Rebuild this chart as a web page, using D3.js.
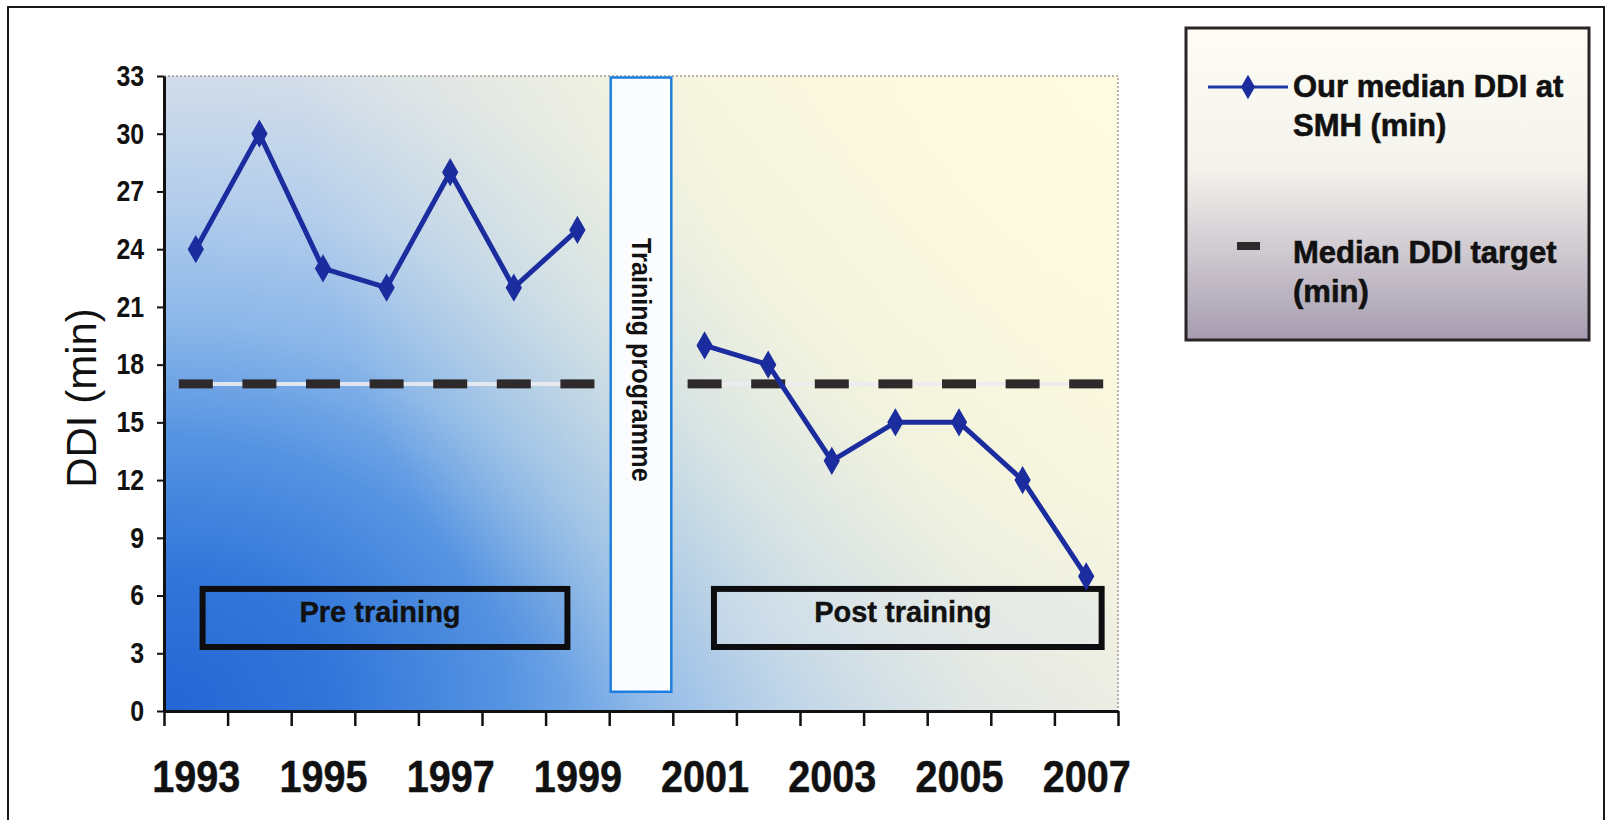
<!DOCTYPE html>
<html>
<head>
<meta charset="utf-8">
<script src="https://cdn.jsdelivr.net/npm/d3@7"></script>
<style>
  html, body { margin: 0; padding: 0; background: #ffffff; }
  svg { display: block; }
  text { font-family: "Liberation Sans", Arial, Helvetica, sans-serif; }
</style>
</head>
<body>
<svg id="chart" width="1612" height="820"></svg>
<script>
// ---- data -------------------------------------------------------------
const years = [1993, 1994, 1995, 1996, 1997, 1998, 1999, 2000, 2001, 2002, 2003, 2004, 2005, 2006, 2007];
// median door-to-doctor interval per year (min); 2000 = training year, no value
const medianDDI = [24, 30, 23, 22, 28, 22, 25, null, 19, 18, 13, 15, 15, 12, 7];
const targetDDI = [17, 17, 17, 17, 17, 17, 17, null, 17, 17, 17, 17, 17, 17, 17];
const yTickValues = [0, 3, 6, 9, 12, 15, 18, 21, 24, 27, 30, 33];
const xTickLabels = [1993, 1995, 1997, 1999, 2001, 2003, 2005, 2007];
const seriesNames = ["Our median DDI at|SMH (min)", "Median DDI target|(min)"];

// ---- layout -----------------------------------------------------------
const plot = { left: 164, right: 1118, top: 76, bottom: 711 };

const svg = d3.select("#chart");
const x = d3.scaleLinear().domain([1992.5, 2007.5]).range([plot.left, plot.right]);
const y = d3.scaleLinear().domain([0, 33]).range([plot.bottom, plot.top]);

const defs = svg.append("defs");

// blue wash spreading from the lower-left corner of the plot (wider than tall)
const bg = defs.append("radialGradient").attr("id", "plotBg")
  .attr("gradientUnits", "userSpaceOnUse")
  .attr("cx", plot.left).attr("cy", plot.bottom).attr("r", 1150)
  .attr("fx", plot.left).attr("fy", plot.bottom)
  .attr("gradientTransform",
        `translate(${plot.left},${plot.bottom}) scale(1.15,0.92) translate(${-plot.left},${-plot.bottom})`);
[[0, "#2465d4"], [0.13, "#3176da"], [0.26, "#5694e2"], [0.36, "#88b5e9"],
 [0.48, "#b3cdec"], [0.62, "#d6dfe9"], [0.75, "#e7e8e8"], [0.88, "#f2f1e6"], [1, "#f8f7e6"]]
  .forEach(([o, c]) => bg.append("stop").attr("offset", o).attr("stop-color", c));

// pale cream glow from the upper-right corner
const warm = defs.append("radialGradient").attr("id", "plotWarm")
  .attr("gradientUnits", "userSpaceOnUse")
  .attr("cx", plot.right).attr("cy", plot.top).attr("r", 820)
  .attr("fx", plot.right).attr("fy", plot.top);
warm.append("stop").attr("offset", 0).attr("stop-color", "#fffde0").attr("stop-opacity", 0.95);
warm.append("stop").attr("offset", 0.5).attr("stop-color", "#fffcda").attr("stop-opacity", 0.7);
warm.append("stop").attr("offset", 1).attr("stop-color", "#fffcda").attr("stop-opacity", 0);

// legend panel: cream at top fading to grey-mauve
const lg = defs.append("linearGradient").attr("id", "legendBg")
  .attr("x1", 0).attr("y1", 0).attr("x2", 0).attr("y2", 1);
[[0, "#fdfcf5"], [0.45, "#f4f2ec"], [0.72, "#cfc9d0"], [1, "#a59caf"]]
  .forEach(([o, c]) => lg.append("stop").attr("offset", o).attr("stop-color", c));

// outer frame
svg.append("rect").attr("x", 8).attr("y", 7).attr("width", 1596).attr("height", 830)
  .attr("fill", "#ffffff").attr("stroke", "#1a1a1a").attr("stroke-width", 2);

// plot background
["url(#plotBg)", "url(#plotWarm)"].forEach(f =>
  svg.append("rect").attr("x", plot.left).attr("y", plot.top)
    .attr("width", plot.right - plot.left).attr("height", plot.bottom - plot.top)
    .attr("fill", f));
// thin dotted border on top and right
svg.append("path")
  .attr("d", `M${plot.left},${plot.top}H${plot.right}V${plot.bottom}`)
  .attr("fill", "none").attr("stroke", "#a09890").attr("stroke-width", 1.5)
  .attr("stroke-dasharray", "2,2");

// ---- target series (dash markers joined by a pale line) ----------------
const pts = years.map((yr, i) => ({ yr, v: medianDDI[i], t: targetDDI[i] }));

const targetLine = d3.line().defined(d => d.t != null).x(d => x(d.yr)).y(d => y(d.t));
svg.append("path").datum(pts).attr("d", targetLine)
  .attr("fill", "none").attr("stroke", "#ecebf0").attr("stroke-width", 4).attr("opacity", 0.9);
svg.append("g").selectAll("rect").data(pts.filter(d => d.t != null)).join("rect")
  .attr("x", d => x(d.yr) - 17).attr("y", d => y(d.t) - 4.5)
  .attr("width", 34).attr("height", 9).attr("fill", "#2e2a2c");

// ---- period annotations -------------------------------------------------
const trainingBand = { x0: 1999.5, x1: 2000.5, y0: 1, y1: 33 };
const tb = svg.append("g");
tb.append("rect")
  .attr("x", x(trainingBand.x0) + 1.5).attr("y", y(trainingBand.y1) + 1.5)
  .attr("width", x(trainingBand.x1) - x(trainingBand.x0) - 3)
  .attr("height", y(trainingBand.y0) - y(trainingBand.y1) - 1.5)
  .attr("fill", "#fbfcfe").attr("stroke", "#1f7fe0").attr("stroke-width", 2.5);
tb.append("text")
  .attr("transform", `translate(${x(2000) - 9},${(y(trainingBand.y0) + y(trainingBand.y1)) / 2 - 24}) rotate(90) scale(0.9,1)`)
  .attr("text-anchor", "middle").attr("font-size", 28).attr("font-weight", "bold")
  .attr("fill", "#111").text("Training programme");

const periodBoxes = [
  { label: "Pre training", x0: 1993.06, x1: 1998.89, y0: 3.17, y1: 6.5, fill: "rgba(60,120,215,0.12)", dx: -5 },
  { label: "Post training", x0: 2001.1, x1: 2007.29, y0: 3.17, y1: 6.5, fill: "rgba(222,228,238,0.35)", dx: -5 }
];
const pb = svg.append("g").selectAll("g").data(periodBoxes).join("g");
pb.append("rect")
  .attr("x", d => x(d.x0) + 3).attr("y", d => y(d.y1) + 3)
  .attr("width", d => x(d.x1) - x(d.x0) - 6).attr("height", d => y(d.y0) - y(d.y1) - 6)
  .attr("fill", d => d.fill).attr("stroke", "#0d0d10").attr("stroke-width", 6);
pb.append("text")
  .attr("x", d => (x(d.x0) + x(d.x1)) / 2 + d.dx).attr("y", d => y(d.y1) + 36)
  .attr("text-anchor", "middle").attr("font-size", 29).attr("font-weight", "bold")
  .attr("fill", "#111").attr("stroke", "#111").attr("stroke-width", 0.4).text(d => d.label);

// ---- median DDI series --------------------------------------------------
const ddiLine = d3.line().defined(d => d.v != null).x(d => x(d.yr)).y(d => y(d.v));
svg.append("path").datum(pts).attr("d", ddiLine)
  .attr("fill", "none").attr("stroke", "#1b2c9e").attr("stroke-width", 5)
  .attr("stroke-linejoin", "round");
const diamond = d3.symbol().type(d3.symbolDiamond).size(230);
svg.append("g").selectAll("path").data(pts.filter(d => d.v != null)).join("path")
  .attr("d", diamond).attr("transform", d => `translate(${x(d.yr)},${y(d.v)})`)
  .attr("fill", "#1b2c9e");

// ---- axes ---------------------------------------------------------------
const yAxis = svg.append("g").attr("transform", `translate(${plot.left},0)`)
  .call(d3.axisLeft(y).tickValues(yTickValues).tickSize(7).tickSizeOuter(0).tickPadding(16));
yAxis.select(".domain").attr("stroke", "#111").attr("stroke-width", 3);
yAxis.selectAll(".tick line").attr("stroke", "#111").attr("stroke-width", 2);
yAxis.selectAll(".tick text").attr("font-size", 29).attr("font-weight", "bold")
  .attr("transform", "scale(0.86,1)")
  .attr("fill", "#111").attr("font-family", "'Liberation Sans', Arial, sans-serif");

const bounds = d3.range(1992.5, 2008, 1);
const xAxis = svg.append("g").attr("transform", `translate(0,${plot.bottom})`)
  .call(d3.axisBottom(x).tickValues(bounds).tickSize(15).tickSizeOuter(0).tickFormat(""));
xAxis.select(".domain").attr("stroke", "#111").attr("stroke-width", 3);
xAxis.selectAll(".tick line").attr("stroke", "#111").attr("stroke-width", 2.5);

const xLab = svg.append("g").attr("transform", `translate(0,${plot.bottom})`)
  .call(d3.axisBottom(x).tickValues(xTickLabels).tickSize(0).tickPadding(50).tickFormat(d3.format("d")));
xLab.select(".domain").remove();
xLab.selectAll(".tick text").attr("font-size", 44).attr("font-weight", "bold")
  .attr("transform", "scale(0.9,1)")
  .attr("fill", "#111").attr("stroke", "#111").attr("stroke-width", 0.5)
  .attr("font-family", "'Liberation Sans', Arial, sans-serif");

// y-axis title
svg.append("text")
  .attr("transform", "translate(96,398) rotate(-90)")
  .attr("text-anchor", "middle").attr("font-size", 42).attr("fill", "#111")
  .text("DDI (min)");

// ---- legend -------------------------------------------------------------
const legend = svg.append("g");
legend.append("rect").attr("x", 1186).attr("y", 28).attr("width", 403).attr("height", 312)
  .attr("fill", "url(#legendBg)").attr("stroke", "#2a2426").attr("stroke-width", 3);

// entry 1: line with diamond
legend.append("line").attr("x1", 1208).attr("x2", 1288).attr("y1", 87).attr("y2", 87)
  .attr("stroke", "#1f3aa8").attr("stroke-width", 3);
legend.append("path").attr("d", d3.symbol().type(d3.symbolDiamond).size(170))
  .attr("transform", "translate(1248,87)").attr("fill", "#1b2c9e");
// entry 2: dash marker
legend.append("rect").attr("x", 1237).attr("y", 242).attr("width", 23).attr("height", 8)
  .attr("fill", "#2e2a2c");

const entryY = [97, 263];
seriesNames.forEach((name, i) => {
  const t = legend.append("text").attr("x", 1293).attr("y", entryY[i])
    .attr("font-size", 31).attr("font-weight", "bold").attr("fill", "#111")
    .attr("stroke", "#111").attr("stroke-width", 0.6);
  name.split("|").forEach((part, j) => {
    t.append("tspan").attr("x", 1293).attr("dy", j === 0 ? 0 : 39).text(part);
  });
});
</script>
</body>
</html>
